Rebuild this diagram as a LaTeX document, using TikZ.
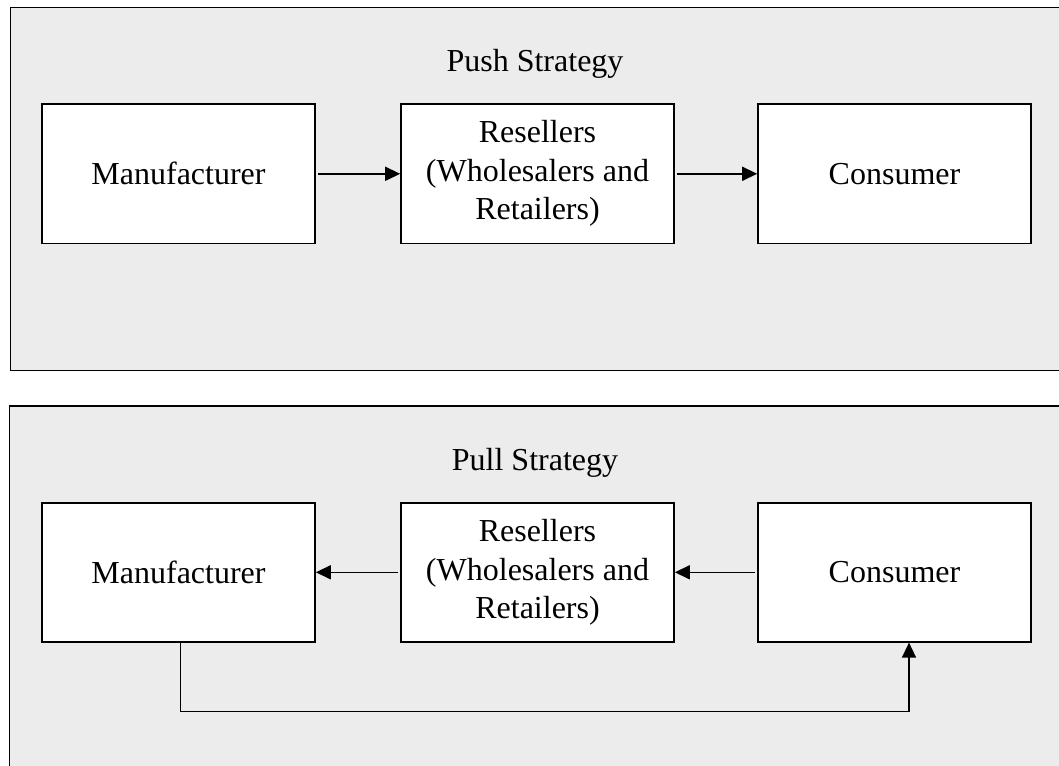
\documentclass[tikz,border=0pt]{standalone}
\usepackage{fontspec}
\setmainfont{Liberation Serif}
\usetikzlibrary{arrows.meta}
\definecolor{panelgray}{HTML}{ECECEC}
\tikzset{
  panel/.style={draw=black, fill=panelgray, line width=1.8pt},
  box/.style={draw=black, fill=white, line width=1.6pt, minimum width=273pt, minimum height=139pt, inner sep=0pt, align=center, font=\fontsize{32}{38.5}\selectfont},
  title/.style={anchor=base, inner sep=0pt, font=\fontsize{32}{38.5}\selectfont},
  arr/.style={line width=1.5pt, -{Triangle[length=15pt,width=14pt]}}
}
\begin{document}
\begin{tikzpicture}[x=1pt,y=-1pt]
\useasboundingbox (0,0) rectangle (1059,765);
\clip (0,0) rectangle (1059,765);
\fill[white] (0,0) rectangle (1059,765);
% panels
\draw[panel] (10.5,7.5) rectangle (1075,370.5);
\draw[panel] (9.5,406) rectangle (1075,790);
% push
\node[title] (t1) at (535,72) {Push Strategy};
\node[box] (m1) at (178.5,173.8) {Manufacturer};
\node[box] (r1) at (537.5,173.8) {Resellers\\(Wholesalers and\\Retailers)};
\node[box] (c1) at (894.5,173.8) {Consumer};
\draw[arr, shorten <=2pt] (m1.east) -- (r1.west);
\draw[arr, shorten <=2pt] (r1.east) -- (c1.west);
% pull
\node[title] (t2) at (535,470.5) {Pull Strategy};
\node[box] (m2) at (178.5,572.3) {Manufacturer};
\node[box] (r2) at (537.5,572.3) {Resellers\\(Wholesalers and\\Retailers)};
\node[box] (c2) at (894.5,572.3) {Consumer};
\draw[arr, shorten <=2pt] (r2.west) -- (m2.east);
\draw[arr, shorten <=2pt] (c2.west) -- (r2.east);
\coordinate (k1) at (180.5,711.5);
\coordinate (k2) at (909,711.5);
\draw[arr] (m2.south -| k1) -- (k1) -- (k2) -- (k2 |- c2.south);
\end{tikzpicture}
\end{document}
